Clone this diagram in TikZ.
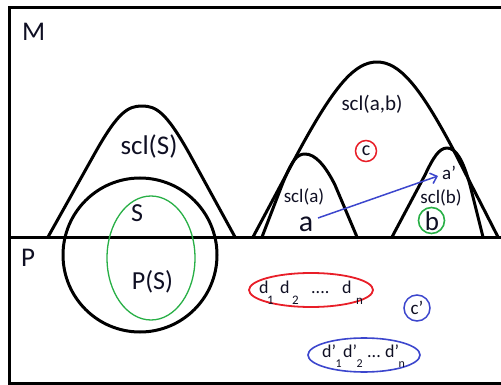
\documentclass[tikz,border=0pt]{standalone}
\usepackage{fontspec}
\setmainfont{Carlito}
\usetikzlibrary{arrows.meta,shapes.geometric}
\definecolor{pred}{RGB}{232,30,40}
\definecolor{pgreen}{RGB}{40,175,70}
\definecolor{pblue}{RGB}{60,70,205}
\definecolor{txt}{RGB}{15,15,35}
\newcommand{\fs}[1]{\fontsize{#1}{#1}\selectfont}
\newcommand{\dsub}[2]{d\hspace{#1}\raisebox{-11pt}{\fs{13}#2}}
\newcommand{\dpsub}[2]{d'\hspace{#1}\raisebox{-10pt}{\fs{12}#2}}
\tikzset{
  frame/.style={line width=3pt, black},
  bell/.style={line width=3pt, black, line join=round},
  lbl/.style={inner sep=0pt, text=txt, anchor=base},
  dd/.style={inner sep=0pt, text=txt, anchor=base west, font=\fs{18}},
}
\begin{document}
\begin{tikzpicture}[x=1pt,y=-1pt]
\useasboundingbox (0,0) rectangle (501,385);
% frame
\draw[frame] (501,8) -- (9,8) -- (9,383) -- (501,383);
\draw[frame] (9,237) -- (501,237);
\node[lbl, anchor=base west, font=\fs{27}] (M) at (22,41) {M};
\node[lbl, anchor=base west, font=\fs{27}] (P) at (21,266) {P};
% left bell scl(S)
\draw[bell] (48,237) -- (95,153) .. controls (118,112) and (128,106) .. (142,106)
  .. controls (156,106) and (166,112) .. (189,153) -- (235,237);
\node[lbl, font=\fs{27}] (sclS) at (149,155) {scl(S)};
\draw[line width=3pt] (140,255) circle[radius=77];
\draw[pgreen, line width=1.3pt] (151,258) ellipse[x radius=44, y radius=62];
\node[lbl, font=\fs{26}] (S) at (137,222) {S};
\node[lbl, font=\fs{26}] (PS) at (152.5,289) {P(S)};
% big bell scl(a,b)
\draw[bell] (253,237) -- (300,149) .. controls (335,85) and (355,62) .. (377,62)
  .. controls (399,62) and (419,85) .. (453,149) -- (498,237);
\node[lbl, font=\fs{21}] (sclab) at (372,111) {scl(a,b)};
% scl(a)
\draw[bell] (262,237) -- (282,185) .. controls (292,160) and (297,154) .. (305,154)
  .. controls (315,154) and (325,165) .. (335,185) -- (357,237);
\node[lbl, font=\fs{19}] (scla) at (304,203) {scl(a)};
\node[lbl, font=\fs{30}] (a) at (306,231) {a};
% scl(b)
\draw[bell] (392,237) -- (425,175) .. controls (433,158) and (439,148) .. (447,148)
  .. controls (456,148) and (463,160) .. (470,185) -- (483,237);
\node[lbl, font=\fs{19}] (sclb) at (441,204) {scl(b)};
\node[draw=pgreen, line width=1.6pt, circle, minimum size=26pt, inner sep=0pt] (bc) at (431.5,220.5) {};
\node[lbl, font=\fs{27}] (b) at (432,230) {b};
% c
\node[draw=pred, line width=1.5pt, circle, minimum size=21pt, inner sep=0pt, text=txt, font=\fs{20}] (c) at (366,151) {\raisebox{1pt}{c}};
% arrow a -> a'
\node[lbl, anchor=base west, font=\fs{19}] (ap) at (442,180) {a'};
\coordinate (arrS) at (318,218);
\coordinate (arrE) at (438,176);
\draw[pblue, line width=1.5pt, -{Straight Barb[length=6pt,width=11pt]}] (arrS) -- (arrE);
% red ellipse
\draw[pred, line width=1.8pt] (311,290) ellipse[x radius=62, y radius=17];
\node[dd] (d1) at (259,293) {\dsub{-1.5pt}{1}};
\node[dd] (d2) at (280,293) {\dsub{2.5pt}{2}};
\node[dd] (dots1) at (311,293) {....};
\node[dd] (dn) at (342,293) {\dsub{4.5pt}{n}};
% c'
\node[draw=pblue, line width=1.5pt, circle, minimum size=26pt, inner sep=0pt, text=txt, font=\fs{19}] (cp) at (417,308) {c'};
% blue ellipse
\draw[pblue, line width=1.6pt] (364,355) ellipse[x radius=56, y radius=17];
\node[dd] (e1) at (322,357) {\dpsub{-0.5pt}{1}};
\node[dd] (e2) at (343,357) {\dpsub{-0.5pt}{2}};
\node[dd] (dots2) at (367,357) {...};
\node[dd] (en) at (385,357) {\dpsub{-0.5pt}{n}};
\end{tikzpicture}
\end{document}
